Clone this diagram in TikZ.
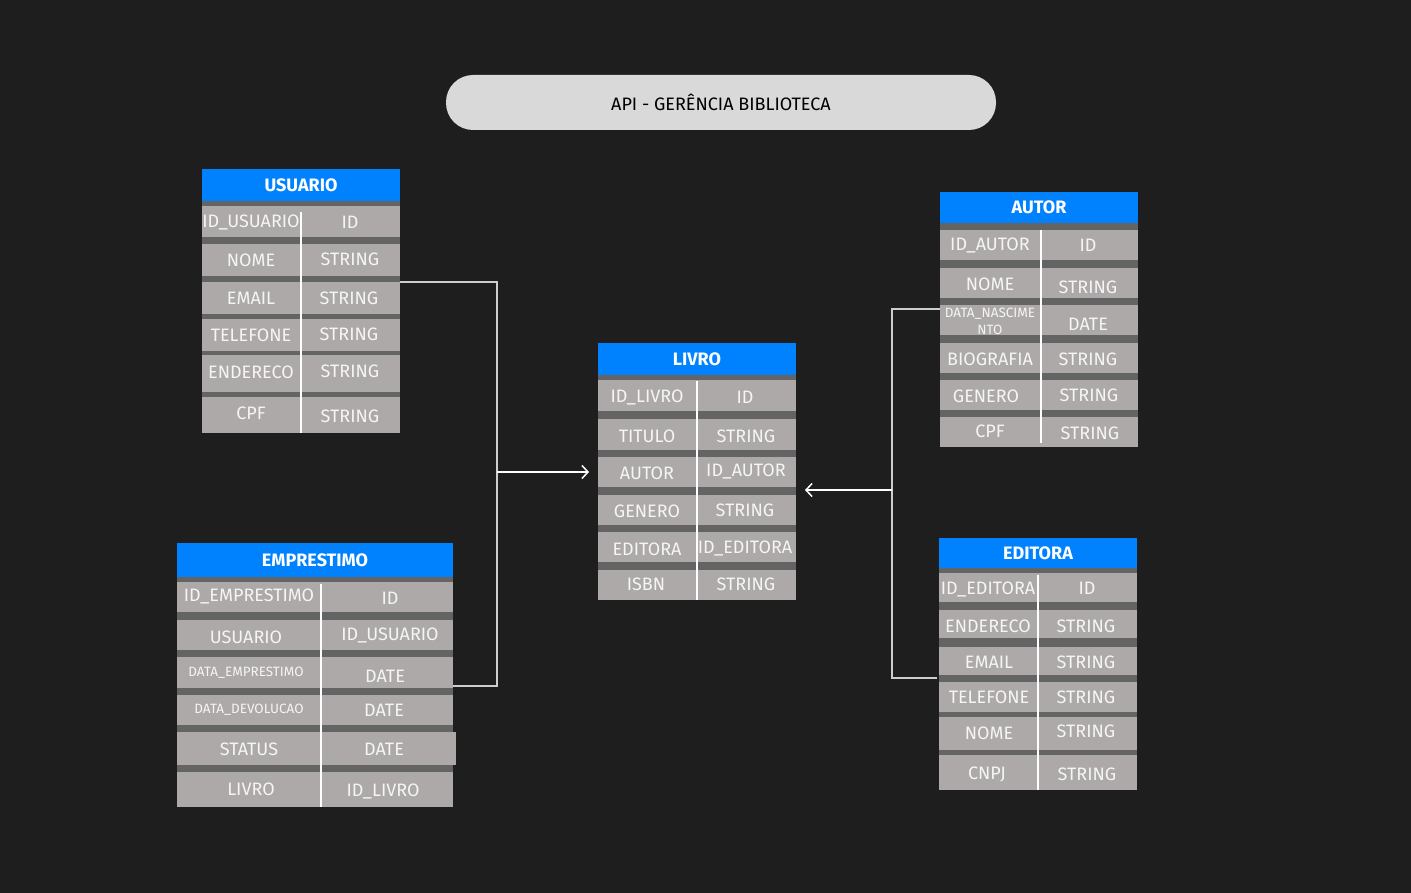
\documentclass[tikz,border=0pt]{standalone}
\usepackage{fontspec}
\setmainfont{Fira Sans}
\usetikzlibrary{arrows.meta}
\definecolor{bg}{RGB}{30,30,30}
\definecolor{rowgray}{RGB}{172,169,168}
\definecolor{bandgray}{RGB}{100,100,100}
\definecolor{hdrblue}{RGB}{0,130,255}
\definecolor{pill}{RGB}{217,217,217}
\definecolor{linecol}{RGB}{205,205,205}
\definecolor{celltxt}{RGB}{245,245,245}
\tikzset{
 rowbox/.style={fill=rowgray, draw=none, inner sep=0pt, outer sep=0pt, anchor=north west},
 hdr/.style={fill=hdrblue, inner sep=0pt, outer sep=0pt, anchor=north west, text=white, font=\fontsize{18}{21}\selectfont\bfseries},
 cell/.style={text=celltxt, inner sep=0pt, font=\fontsize{18}{21}\selectfont},
 smallcell/.style={text=celltxt, inner sep=0pt, align=center, font=\fontsize{13.5}{17}\selectfont},
 divider/.style={draw=white, line width=1.2pt},
 band/.style={fill=bandgray},
 conn/.style={draw=linecol, line width=1.3pt},
 arr/.style={draw=white, line width=1.5pt, -{Straight Barb[length=6pt,width=13pt]}},
 titlebox/.style={fill=pill, rounded corners=27pt, minimum width=550pt, minimum height=55pt, inner sep=0pt, font=\fontsize{18}{21}\selectfont, text=black},
}
\newcommand\trow[5]{\node[rowbox,minimum width=#4pt,minimum height=#5pt] (#1) at (#2,#3) {};}
\begin{document}
\begin{tikzpicture}[x=1pt,y=-1pt]
\useasboundingbox (0,0) rectangle (1411,893);
\fill[bg] (0,0) rectangle (1411,893);

% title
\node[titlebox] (title) at (721,102.5) {API - GERÊNCIA BIBLIOTECA};

% ===== USUARIO =====
\fill[band] (202,200) rectangle (400,433);
\node[hdr,minimum width=198pt,minimum height=32pt] (usuario) at (202,169) {USUARIO};
\trow{u1}{202}{206}{198}{31}
\trow{u2}{202}{244}{198}{32}
\trow{u3}{202}{282}{198}{32}
\trow{u4}{202}{319}{198}{32}
\trow{u5}{202}{355}{198}{37}
\trow{u6}{202}{397}{198}{36}
\draw[divider] (301,212) -- (301,433);
\node[cell] (u1a) at (251,222) {ID\_USUARIO};
\node[cell] (u1b) at (350,222) {ID};
\node[cell] (u2a) at (251,260) {NOME};
\node[cell] (u2b) at (350,259) {STRING};
\node[cell] (u3a) at (251,298) {EMAIL};
\node[cell] (u3b) at (349,298) {STRING};
\node[cell] (u4a) at (251,335) {TELEFONE};
\node[cell] (u4b) at (349,334) {STRING};
\node[cell] (u5a) at (251,372) {ENDERECO};
\node[cell] (u5b) at (350,371) {STRING};
\node[cell] (u6a) at (251,413) {CPF};
\node[cell] (u6b) at (350,416) {STRING};

% ===== LIVRO =====
\fill[band] (598,375) rectangle (796,600);
\node[hdr,minimum width=198pt,minimum height=32pt] (livro) at (598,343) {LIVRO};
\trow{l1}{598}{380}{198}{31}
\trow{l2}{598}{419}{198}{31}
\trow{l3}{598}{457}{198}{30}
\trow{l4}{598}{495}{198}{30}
\trow{l5}{598}{532}{198}{30}
\trow{l6}{598}{570}{198}{30}
\draw[divider] (697,381) -- (697,600);
\node[cell] (l1a) at (647,397) {ID\_LIVRO};
\node[cell] (l1b) at (745,397) {ID};
\node[cell] (l2a) at (647,436) {TITULO};
\node[cell] (l2b) at (746,436) {STRING};
\node[cell] (l3a) at (647,473) {AUTOR};
\node[cell] (l3b) at (746,471) {ID\_AUTOR};
\node[cell] (l4a) at (647,511) {GENERO};
\node[cell] (l4b) at (745,510) {STRING};
\node[cell] (l5a) at (647,549) {EDITORA};
\node[cell] (l5b) at (745,548) {ID\_EDITORA};
\node[cell] (l6a) at (646,584) {ISBN};
\node[cell] (l6b) at (746,584) {STRING};

% ===== AUTOR =====
\fill[band] (940,223) rectangle (1138,447);
\node[hdr,minimum width=198pt,minimum height=31pt] (autor) at (940,192) {AUTOR};
\trow{a1}{940}{230}{198}{30}
\trow{a2}{940}{268}{198}{30}
\trow{a3}{940}{305}{198}{30}
\trow{a4}{940}{343}{198}{30}
\trow{a5}{940}{380}{198}{30}
\trow{a6}{940}{417}{198}{30}
\draw[divider] (1041,230) -- (1041,443);
\node[cell] (a1a) at (990,245) {ID\_AUTOR};
\node[cell] (a1b) at (1088,245) {ID};
\node[cell] (a2a) at (990,284) {NOME};
\node[cell] (a2b) at (1088,287) {STRING};
\node[smallcell] (a3a) at (990,321.5) {DATA\_NASCIME\\NTO};
\node[cell] (a3b) at (1088,324) {DATE};
\node[cell] (a4a) at (990,359) {BIOGRAFIA};
\node[cell] (a4b) at (1088,359) {STRING};
\node[cell] (a5a) at (986,396) {GENERO};
\node[cell] (a5b) at (1089,395) {STRING};
\node[cell] (a6a) at (990,431) {CPF};
\node[cell] (a6b) at (1090,433) {STRING};

% ===== EMPRESTIMO =====
\fill[band] (177,577) rectangle (453,807);
\node[hdr,minimum width=276pt,minimum height=34pt] (emprestimo) at (177,543) {EMPRESTIMO};
\trow{e1}{177}{582}{276}{30}
\trow{e2}{177}{620}{276}{30}
\trow{e3}{177}{657}{276}{31}
\trow{e4}{177}{695}{276}{30}
\trow{e5}{177}{732}{279}{33}
\trow{e6}{177}{772}{276}{35}
\draw[divider] (321,584) -- (321,807);
\node[cell] (e1a) at (249,596) {ID\_EMPRESTIMO};
\node[cell] (e1b) at (390,598) {ID};
\node[cell] (e2a) at (246,637) {USUARIO};
\node[cell] (e2b) at (390,635) {ID\_USUARIO};
\node[smallcell] (e3a) at (246,673) {DATA\_EMPRESTIMO};
\node[cell] (e3b) at (385,676) {DATE};
\node[smallcell] (e4a) at (249,710) {DATA\_DEVOLUCAO};
\node[cell] (e4b) at (384,710) {DATE};
\node[cell] (e5a) at (249,749) {STATUS};
\node[cell] (e5b) at (384,749) {DATE};
\node[cell] (e6a) at (251,789) {LIVRO};
\node[cell] (e6b) at (383,791) {ID\_LIVRO};

% ===== EDITORA =====
\fill[band] (939,568) rectangle (1137,790);
\node[hdr,minimum width=198pt,minimum height=30pt] (editora) at (939,538) {EDITORA};
\trow{d1}{939}{573}{198}{29}
\trow{d2}{939}{610}{198}{28}
\trow{d3}{939}{647}{198}{28}
\trow{d4}{939}{682}{198}{30}
\trow{d5}{939}{717}{198}{33}
\trow{d6}{939}{755}{198}{35}
\draw[divider] (1038,575) -- (1038,790);
\node[cell] (d1a) at (988,589) {ID\_EDITORA};
\node[cell] (d1b) at (1087,588) {ID};
\node[cell] (d2a) at (988,626) {ENDERECO};
\node[cell] (d2b) at (1086,626) {STRING};
\node[cell] (d3a) at (989,662) {EMAIL};
\node[cell] (d3b) at (1086,662) {STRING};
\node[cell] (d4a) at (989,697) {TELEFONE};
\node[cell] (d4b) at (1086,697) {STRING};
\node[cell] (d5a) at (989,733) {NOME};
\node[cell] (d5b) at (1086,731) {STRING};
\node[cell] (d6a) at (987,774) {CNPJ};
\node[cell] (d6b) at (1087,774) {STRING};

% ===== connectors =====
\coordinate (jl) at (497,472);
\coordinate (la) at (589,472);
\coordinate (ce) at (453,686);
\draw[conn] (u3.north east) -| (jl) |- (ce);
\draw[arr] (jl) -- (la);

\coordinate (jr) at (892,490);
\coordinate (ra) at (805,490);
\coordinate (ca) at (940,309);
\coordinate (cd) at (937,678);
\draw[conn] (ca) -| (jr) |- (cd);
\draw[arr] (jr) -- (ra);
\end{tikzpicture}
\end{document}
